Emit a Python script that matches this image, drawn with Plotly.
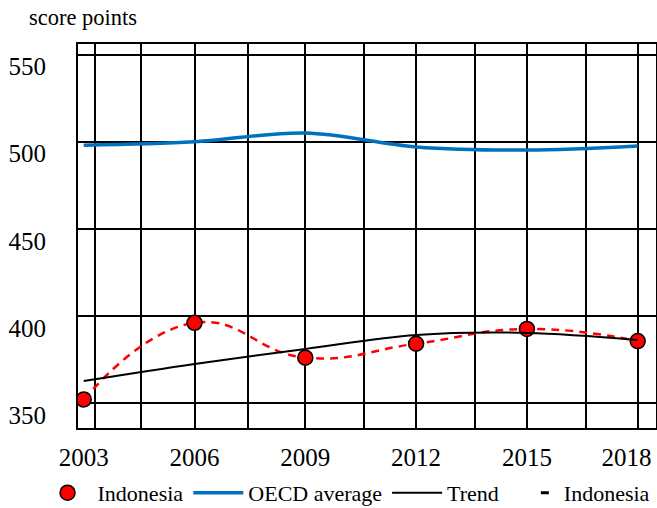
import plotly.graph_objects as go

# ---- data ----
years = [2003, 2006, 2009, 2012, 2015, 2018]
indonesia = [352, 396, 376, 384, 392.5, 385.5]
oecd_average = [498, 500, 505, 497, 495.2, 497.5]
trend = [362.6, 372.4, 381, 389, 390.2, 386.2]
y_tick_values = [550, 500, 450, 400, 350]
x_tick_labels = ["2003", "2006", "2009", "2012", "2015", "2018"]
x_label_positions = [2003, 2006, 2009, 2012, 2015, 2017.7]
x_grid_positions = [2003.3, 2004.55, 2006, 2007.45, 2009, 2010.6, 2012, 2013.6, 2015, 2016.6, 2018]

FONT = "Liberation Serif, Times New Roman, serif"
X_RANGE = [2002.845, 2018.496]
Y_RANGE = [335.6, 556.1]

fig = go.Figure()
fig.add_trace(go.Scatter(
    x=years, y=oecd_average, mode="lines", name="OECD average", legendrank=2,
    line=dict(color="#0070c0", width=3.5, shape="spline", smoothing=1)))
fig.add_trace(go.Scatter(
    x=years, y=indonesia, mode="lines", name="Indonesia", showlegend=False,
    line=dict(color="#ff0000", width=2.5, dash="8px,6px", shape="spline", smoothing=1.3)))
fig.add_trace(go.Scatter(
    x=years, y=indonesia, mode="markers", name="Indonesia", legendrank=1,
    marker=dict(size=15, color="#ff0000", line=dict(color="black", width=1.5))))
fig.add_trace(go.Scatter(
    x=years, y=trend, mode="lines", name="Trend", legendrank=3,
    line=dict(color="black", width=2, shape="spline", smoothing=1)))
# legend entry for the dashed Indonesia line
fig.add_trace(go.Scatter(
    x=[None], y=[None], xaxis="x2", mode="lines", name="Indonesia", legendrank=4,
    line=dict(color="black", width=3, dash="0px,32px,8px,90px")))

fig.update_layout(
    width=657, height=508,
    margin=dict(l=78, r=1, t=44, b=80, autoexpand=False),
    paper_bgcolor="white", plot_bgcolor="white",
    font=dict(family=FONT, color="black"),
    showlegend=True,
    legend=dict(orientation="h", x=-0.07, xanchor="left", y=-0.169, yanchor="middle",
                font=dict(size=22, family=FONT, color="black"), itemwidth=50,
                traceorder="normal", bgcolor="rgba(0,0,0,0)"),
    xaxis=dict(range=X_RANGE, showticklabels=False, showgrid=False, ticks="",
               automargin=False,
               zeroline=False, showline=True, mirror=True, linecolor="black", linewidth=2,
               minor=dict(tickmode="array", tickvals=x_grid_positions, showgrid=True,
                          gridcolor="black", gridwidth=2, ticks="")),
    xaxis2=dict(range=X_RANGE, overlaying="x", anchor="y", side="bottom",
                automargin=False,
                tickmode="array", tickvals=x_label_positions, ticktext=x_tick_labels,
                showgrid=False, zeroline=False, ticks="", showline=False,
                tickfont=dict(size=25, family=FONT, color="black"), ticklabelstandoff=12),
    yaxis=dict(range=Y_RANGE, tickmode="array", tickvals=y_tick_values,
               automargin=False,
               showgrid=True, gridcolor="black", gridwidth=2, zeroline=False,
               showline=True, mirror=True, linecolor="black", linewidth=2, ticks="",
               tickfont=dict(size=25, family=FONT, color="black"),
               ticklabelshift=12, ticklabelstandoff=25),
    annotations=[dict(text="score points", xref="paper", yref="paper",
                      x=-0.088, y=1.068, xanchor="left", yanchor="middle",
                      showarrow=False, font=dict(size=22.5, family=FONT, color="black"))],
)

fig.write_html("out.html", config={"displayModeBar": False},
               post_script="document.body.style.margin='0';")
